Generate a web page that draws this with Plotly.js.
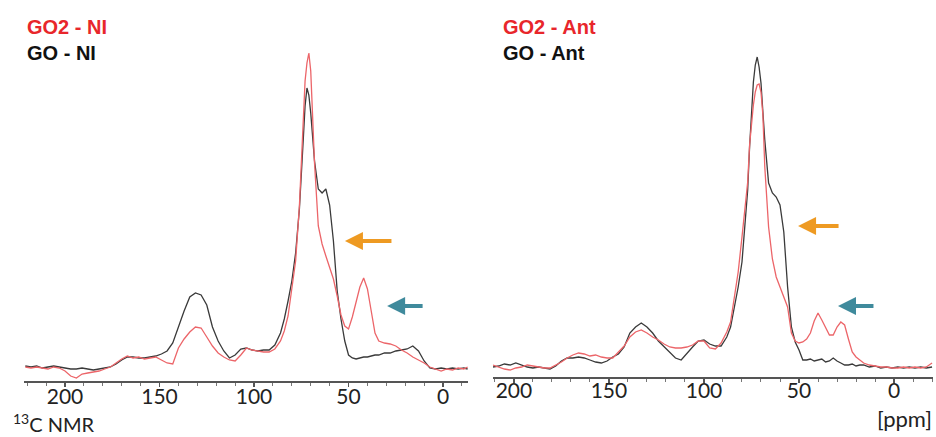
<!DOCTYPE html>
<html>
<head>
<meta charset="utf-8">
<script src="https://cdn.plot.ly/plotly-3.0.1.min.js"></script>
<style>html,body{margin:0;padding:0;background:#fff;}#chart{width:936px;height:437px;}</style>
</head>
<body>
<div id="chart"></div>
<script>
// Chemical shift grid (ppm) for the left panel (NI)
const ppmLeft = [221,218,215,212,209,206,203,200,197,194,191,188,185,182,179,176,173,170,167,164,161,158,155,152,149,146,143,140,137,134,131,128,125,122,119,116,113,110,107,104,101,98,95,92,89,86,
  84,82,80,78,76,74,
  73,72,71,70,69,68,
  66,64,62,60,58,56,54,52,50,48,46,44,42,40,38,36,34,
  31,28,25,22,19,16,13,10,7,4,1,
  -2,-5,-8,-11,-13];
// GO - NI intensity (a.u.)
const goNI = [15,14,15,13,14,15,14,13,12,12,13,12,11,12,13,14,17,21,24,24,23,23,24,25,27,30,38,55,70,84,88,86,76,54,40,30,23,26,32,33,31,30,31,31,36,48,
  62,80,100,128,172,240,
  275,293,286,268,242,220,
  192,188,192,176,140,90,62,40,26,23,22,23,24,24,25,26,26,
  28,28,30,31,32,35,30,20,13,12,13,
  12,13,12,13,12];
// GO2 - NI intensity (a.u.)
const go2NI = [14,13,14,13,12,14,13,10,5,3,7,8,9,10,12,14,18,22,25,23,24,22,23,24,21,18,17,33,42,49,54,53,44,35,28,24,21,20,26,33,31,30,29,29,32,40,
  50,65,90,120,175,265,
  300,318,328,310,265,218,
  155,137,125,114,102,85,66,55,52,64,80,94,103,92,70,48,40,
  38,37,35,31,28,24,21,18,14,12,10,
  12,11,13,12,14];

// Chemical shift grid (ppm) for the right panel (Ant)
const ppmRight = [211,208,205,202,199,196,193,190,187,184,181,178,175,172,169,166,163,160,157,154,151,148,145,142,139,136,133,130,127,124,121,118,115,112,109,106,103,100,97,94,91,88,
  86,84,82,80,78,
  77,76,75,74,73,72,71,70,69,68,
  66,64,62,60,58,56,54,52,50,48,46,44,42,40,38,36,34,32,30,28,26,24,22,20,18,16,
  13,10,7,4,1,
  -2,-5,-8,-11,-14,-17,-20];
// GO - Ant intensity (a.u.)
const goAnt = [10,11,13,12,14,12,10,9,10,9,8,11,16,19,19,20,19,17,15,14,16,20,23,30,44,50,54,50,44,36,30,25,19,17,24,30,36,37,33,31,31,40,
  50,70,90,115,165,
  187,230,270,295,312,320,310,294,265,237,
  194,184,180,172,145,90,50,35,27,17,17,18,16,17,18,15,16,19,16,14,12,12,13,11,12,12,
  10,11,9,10,9,
  10,9,10,9,10,9,10];
// GO2 - Ant intensity (a.u.)
const go2Ant = [12,10,8,7,9,10,12,11,10,9,9,12,15,19,22,24,23,21,22,20,19,19,25,31,40,45,47,44,40,37,33,30,29,29,30,32,36,36,29,28,34,45,
  55,78,105,140,175,
  195,232,255,272,285,292,293,285,262,210,
  150,118,100,90,80,70,44,36,34,35,38,44,56,64,57,50,42,42,50,55,52,38,25,20,17,14,
  12,11,10,10,9,
  9,10,9,10,9,10,14];

const labelsLeft = ['GO2 - NI', 'GO - NI'];
const labelsRight = ['GO2 - Ant', 'GO - Ant'];
const tickVals = [200, 150, 100, 50, 0];

const RED = '#E8262B';
const RED_LINE = '#EC6569';
const BLACK_LINE = '#3a3a3a';

const traces = [
  {x: ppmLeft, y: goNI, xaxis: 'x', yaxis: 'y', mode: 'lines', line: {color: BLACK_LINE, width: 1.3}, name: labelsLeft[1]},
  {x: ppmLeft, y: go2NI, xaxis: 'x', yaxis: 'y', mode: 'lines', line: {color: RED_LINE, width: 1.3}, name: labelsLeft[0]},
  {x: ppmRight, y: goAnt, xaxis: 'x2', yaxis: 'y2', mode: 'lines', line: {color: BLACK_LINE, width: 1.3}, name: labelsRight[1]},
  {x: ppmRight, y: go2Ant, xaxis: 'x2', yaxis: 'y2', mode: 'lines', line: {color: RED_LINE, width: 1.3}, name: labelsRight[0]}
];

const xCommon = {
  showline: true, linecolor: '#555', linewidth: 1.5,
  ticks: 'outside', ticklen: 4, tickwidth: 1.2, tickcolor: '#555',
  tickmode: 'array', tickvals: tickVals,
  minor: {dtick: 10, ticks: 'outside', ticklen: 3, tickcolor: '#777', tickwidth: 1},
  showgrid: false, zeroline: false,
  ticklabelstandoff: -8,
  tickfont: {family: 'Lato, "Open Sans", sans-serif', size: 21, color: '#222'}
};

const legendFont = (c) => ({family: '"Liberation Sans", Arial, sans-serif', size: 20, color: c, weight: 'bold'});

const layout = {
  width: 936, height: 437,
  margin: {l: 0, r: 0, t: 0, b: 0},
  paper_bgcolor: '#fff', plot_bgcolor: 'rgba(0,0,0,0)',
  showlegend: false,
  xaxis: Object.assign({}, xCommon, {domain: [24/936, 468/936], range: [221.7, -13.2], anchor: 'y'}),
  yaxis: {domain: [1 - 381/437, 1 - 40/437], range: [0, 341], visible: false, anchor: 'x'},
  xaxis2: Object.assign({}, xCommon, {domain: [493/936, 933/936], range: [211, -20.5], anchor: 'y2', ticklabelstandoff: -10}),
  yaxis2: {domain: [1 - 377/437, 1 - 40/437], range: [0, 337], visible: false, anchor: 'x2'},
  annotations: [
    {xref: 'paper', yref: 'paper', x: 25/936, y: 1 - 27/437, xanchor: 'left', yanchor: 'middle', text: '<b>' + labelsLeft[0] + '</b>', showarrow: false, font: legendFont(RED)},
    {xref: 'paper', yref: 'paper', x: 25/936, y: 1 - 53/437, xanchor: 'left', yanchor: 'middle', text: '<b>' + labelsLeft[1] + '</b>', showarrow: false, font: legendFont('#111')},
    {xref: 'paper', yref: 'paper', x: 501/936, y: 1 - 27/437, xanchor: 'left', yanchor: 'middle', text: '<b>' + labelsRight[0] + '</b>', showarrow: false, font: legendFont(RED)},
    {xref: 'paper', yref: 'paper', x: 501/936, y: 1 - 53/437, xanchor: 'left', yanchor: 'middle', text: '<b>' + labelsRight[1] + '</b>', showarrow: false, font: legendFont('#111')},
    {xref: 'paper', yref: 'paper', x: 11/936, y: 1 - 423/437, xanchor: 'left', yanchor: 'middle', text: '<sup>13</sup>C NMR', showarrow: false, font: {family: 'Lato, "Open Sans", sans-serif', size: 20, color: '#222'}},
    {xref: 'paper', yref: 'paper', x: 904/936, y: 1 - 418/437, xanchor: 'center', yanchor: 'middle', text: '[ppm]', showarrow: false, font: {family: 'Lato, "Open Sans", sans-serif', size: 22, color: '#222'}},
    // arrows
    {xref: 'x', yref: 'y', x: 51.9, y: 140, ax: 48, ay: 0, text: '', showarrow: true, arrowhead: 2, arrowsize: 0.9, arrowwidth: 4, arrowcolor: '#EE9A22'},
    {xref: 'x', yref: 'y', x: 29.6, y: 75, ax: 37, ay: 0, text: '', showarrow: true, arrowhead: 2, arrowsize: 0.9, arrowwidth: 4, arrowcolor: '#3F8A9C'},
    {xref: 'x2', yref: 'y2', x: 50.5, y: 151, ax: 42, ay: 0, text: '', showarrow: true, arrowhead: 2, arrowsize: 0.9, arrowwidth: 4, arrowcolor: '#EE9A22'},
    {xref: 'x2', yref: 'y2', x: 29.5, y: 71, ax: 37, ay: 0, text: '', showarrow: true, arrowhead: 2, arrowsize: 0.9, arrowwidth: 4, arrowcolor: '#3F8A9C'}
  ]
};

Plotly.newPlot('chart', traces, layout, {staticPlot: true, displayModeBar: false});
</script>
</body>
</html>
